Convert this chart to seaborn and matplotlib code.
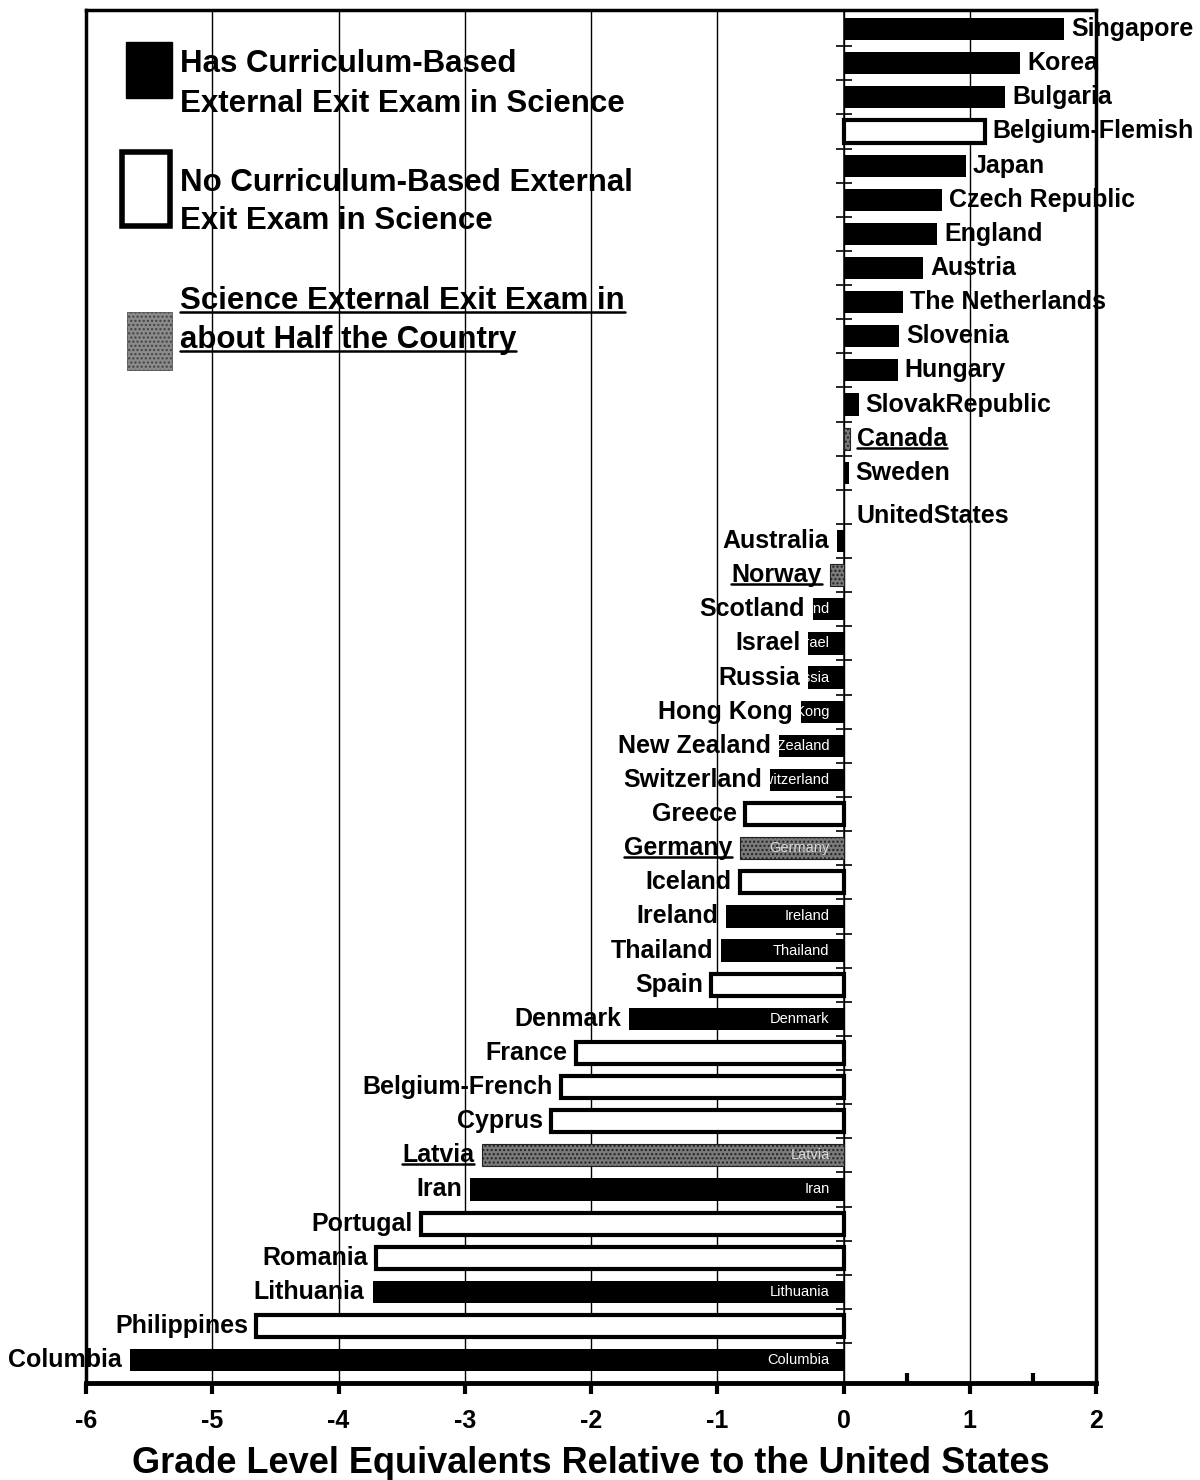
import matplotlib
matplotlib.use("Agg")
import matplotlib.pyplot as plt
import seaborn as sns
import pandas as pd
from matplotlib.lines import Line2D
from matplotlib.patches import Rectangle
from matplotlib.ticker import FixedLocator
from matplotlib.transforms import Bbox, TransformedBbox

# --- data ---
countries = [
    "Singapore", "Korea", "Bulgaria", "Belgium-Flemish", "Japan", "Czech Republic",
    "England", "Austria", "The Netherlands", "Slovenia", "Hungary", "SlovakRepublic",
    "Canada", "Sweden", "UnitedStates", "Australia", "Norway", "Scotland", "Israel",
    "Russia", "Hong Kong", "New Zealand", "Switzerland", "Greece", "Germany", "Iceland",
    "Ireland", "Thailand", "Spain", "Denmark", "France", "Belgium-French", "Cyprus",
    "Latvia", "Iran", "Portugal", "Romania", "Lithuania", "Philippines", "Columbia",
]
scores = [
    1.75, 1.40, 1.28, 1.12, 0.97, 0.78,
    0.74, 0.63, 0.47, 0.44, 0.43, 0.12,
    0.05, 0.04, 0.0, -0.05, -0.11, -0.24, -0.28,
    -0.28, -0.34, -0.51, -0.58, -0.78, -0.82, -0.82,
    -0.93, -0.97, -1.05, -1.70, -2.12, -2.24, -2.32,
    -2.86, -2.96, -3.35, -3.70, -3.73, -4.65, -5.65,
]
# yes = exit exam, no = no exit exam, half = exam in about half the country
exam = [
    "yes", "yes", "yes", "no", "yes", "yes",
    "yes", "yes", "yes", "yes", "yes", "yes",
    "half", "yes", "none", "yes", "half", "yes", "yes",
    "yes", "yes", "yes", "yes", "no", "half", "no",
    "yes", "yes", "no", "yes", "no", "no", "no",
    "half", "yes", "no", "no", "yes", "no", "yes",
]
xticks = [-6, -5, -4, -3, -2, -1, 0, 1, 2]

df = pd.DataFrame({"country": countries, "score": scores, "exam": exam})

sns.set_theme(style="white")
plt.rcParams["font.family"] = ["Liberation Sans", "DejaVu Sans"]
plt.rcParams["text.color"] = "black"
plt.rcParams["axes.labelcolor"] = "black"
plt.rcParams["xtick.color"] = "black"
plt.rcParams["ytick.color"] = "black"

W, H = 1200, 1480
fig = plt.figure(figsize=(12, 14.8), dpi=100)
ax = fig.add_axes([86 / W, 1 - 1383 / H, 1010 / W, 1373 / H])

sns.barplot(data=df, x="score", y="country", order=countries, color="black",
            width=0.65, errorbar=None, orient="h", saturation=1, ax=ax)

# style each bar by exam type
for patch, kind in zip(ax.patches, exam):
    patch.set_zorder(3)
    if kind == "no":
        patch.set_facecolor("white")
        patch.set_edgecolor("black")
        patch.set_linewidth(3)
    elif kind == "half":
        patch.set_facecolor("#7a7a7a")
        patch.set_edgecolor("#202020")
        patch.set_hatch("....")
        patch.set_linewidth(0.8)
    else:
        patch.set_facecolor("black")
        patch.set_edgecolor("black")
        patch.set_linewidth(0)

ax.set_xlim(-6, 2)
ax.set_ylim(len(countries) - 1 + 0.67, -0.56)
ax.set_ylabel("")
ax.set_yticks([])

# x axis
ax.set_xticks(xticks)
ax.set_xticklabels([str(t) for t in xticks], fontsize=18, fontweight="bold")
ax.xaxis.set_minor_locator(FixedLocator([0.5, 1.5]))
ax.tick_params(axis="x", which="major", direction="out", length=8, width=3,
               color="black", pad=11, bottom=True)
ax.tick_params(axis="x", which="minor", direction="in", length=7, width=3,
               color="black", bottom=True)
ax.set_xlabel("Grade Level Equivalents Relative to the United States",
              fontsize=26, fontweight="bold", labelpad=9)
ax.xaxis.grid(True, which="major", color="black", linewidth=1)
ax.set_axisbelow(True)

for side, lw in [("top", 2.5), ("right", 2.5), ("left", 2.5), ("bottom", 3.5)]:
    ax.spines[side].set_visible(True)
    ax.spines[side].set_color("black")
    ax.spines[side].set_linewidth(lw)

# zero axis with ticks between categories
zero_axis = ax.secondary_yaxis(0.75)
zero_axis.set_yticks([i + 0.5 for i in range(len(countries) - 1)])
zero_axis.tick_params(direction="inout", length=11, width=1.2, color="black",
                      labelleft=False, labelright=False)
zero_axis.spines["left"].set_linewidth(2)
zero_axis.spines["left"].set_color("black")

# country labels
labels = {}
lab_kw = dict(textcoords="offset pixels", va="center", fontsize=18, fontweight="bold")
for i, (c, v, kind) in enumerate(zip(countries, scores, exam)):
    if c == "UnitedStates":
        t = ax.annotate(c, xy=(v, i), xytext=(13, -9), ha="left", **lab_kw)
    elif v > 0:
        t = ax.annotate(c, xy=(v, i), xytext=(7, 0), ha="left", **lab_kw)
    else:
        t = ax.annotate(c, xy=(v, i), xytext=(-8, 0), ha="right", **lab_kw)
    labels[c] = t
    # faint name printed inside the negative filled bars, cut to the bar
    if v < 0 and kind in ("yes", "half"):
        bb = ax.patches[i].get_bbox()
        box = Bbox.from_extents(bb.xmin, bb.ymin, bb.xmax, bb.ymax)
        inner = ax.text(-0.11, i, c, ha="right", va="center", fontsize=10.5,
                        color="white" if kind == "yes" else "#d8d8d8", zorder=4)
        inner.set_clip_on(True)
        inner.set_clip_box(TransformedBbox(box, ax.transData))

# legend drawn by hand
def fx(x):
    return x / W

def fy(y):
    return 1 - y / H

fig.add_artist(Rectangle((fx(126), fy(98)), 46 / W, 56 / H, transform=fig.transFigure,
                         facecolor="black", edgecolor="black"))
fig.add_artist(Rectangle((fx(122), fy(226)), 48 / W, 74 / H, transform=fig.transFigure,
                         facecolor="white", edgecolor="black", linewidth=4))
fig.add_artist(Rectangle((fx(127), fy(370)), 45 / W, 58 / H, transform=fig.transFigure,
                         facecolor="#8a8a8a", edgecolor="#404040", hatch="....",
                         linewidth=0.5))

leg_kw = dict(fontsize=22.5, fontweight="bold", va="center", ha="left")
fig.text(fx(180), fy(64), "Has Curriculum-Based", **leg_kw)
fig.text(fx(180), fy(104), "External Exit Exam in Science", **leg_kw)
fig.text(fx(180), fy(183), "No Curriculum-Based External", **leg_kw)
fig.text(fx(180), fy(221), "Exit Exam in Science", **leg_kw)
leg_a = fig.text(fx(180), fy(301), "Science External Exit Exam in", **leg_kw)
leg_b = fig.text(fx(180), fy(340), "about Half the Country", **leg_kw)

# underline the "half the country" entries
fig.canvas.draw()
renderer = fig.canvas.get_renderer()
inv = fig.transFigure.inverted()
underlined = [leg_a, leg_b] + [labels[c] for c, k in zip(countries, exam) if k == "half"]
for t in underlined:
    bb = t.get_window_extent(renderer)
    y = bb.y0 + 0.12 * bb.height
    (x0, y0), (x1, y1) = inv.transform([(bb.x0, y), (bb.x1, y)])
    fig.add_artist(Line2D([x0, x1], [y0, y1], transform=fig.transFigure,
                          color="black", linewidth=1.8))

fig.savefig("out.png", dpi=100)
